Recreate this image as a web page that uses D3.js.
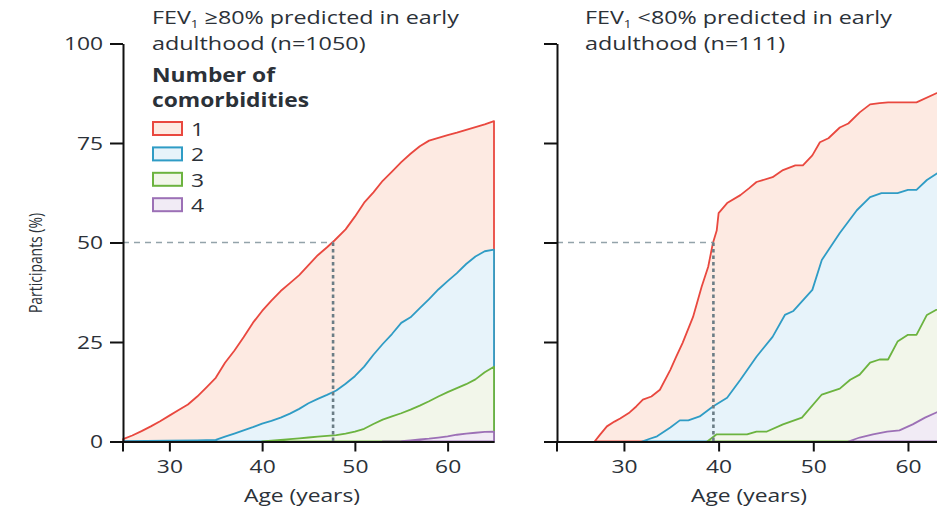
<!DOCTYPE html>
<html>
<head>
<meta charset="utf-8">
<script src="https://cdn.jsdelivr.net/npm/d3@7"></script>
<style>
  html, body { margin: 0; padding: 0; background: #fff; }
  svg text { font-family: "Open Sans", "Noto Sans", sans-serif; fill: #2b3138; font-weight: 500; }
</style>
</head>
<body>
<svg id="chart" width="937" height="510"></svg>
<script>
// Cumulative share of participants (%) with at least N comorbidities, by age
// Panel A: FEV1 >=80% predicted in early adulthood
const leftAges1 = [25, 26, 27, 28, 29, 30, 31, 32, 33, 34, 35, 36, 37, 38, 39, 40, 41, 42, 43, 44, 45, 46, 47, 47.8, 49, 50, 51, 52, 53, 54, 55, 56, 57, 58, 59, 60, 61, 62, 63, 64, 65];
const leftOne   = [0.6, 1.5, 2.6, 3.8, 5.1, 6.5, 7.9, 9.3, 11.3, 13.6, 16.0, 19.8, 22.8, 26.2, 29.8, 32.8, 35.4, 37.8, 39.8, 41.8, 44.3, 46.8, 48.8, 50.5, 53.3, 56.5, 60.0, 62.6, 65.5, 67.8, 70.2, 72.3, 74.2, 75.6, 76.3, 77.0, 77.6, 78.3, 79.0, 79.7, 80.5];
const leftAges2 = [25, 30, 33, 35, 36, 37, 38, 39, 40, 41, 42, 43, 44, 45, 46, 47, 48, 49, 50, 51, 52, 53, 54, 55, 56, 57, 58, 59, 60, 61, 62, 63, 64, 65];
const leftTwo   = [0.1, 0.2, 0.3, 0.4, 1.2, 2.0, 2.8, 3.6, 4.5, 5.2, 6.0, 7.0, 8.2, 9.6, 10.7, 11.7, 12.8, 14.5, 16.4, 18.8, 21.8, 24.5, 27.0, 29.8, 31.2, 33.5, 35.8, 38.2, 40.3, 42.3, 44.6, 46.5, 47.8, 48.2];
const leftAges3 = [40, 41, 42, 43, 44, 45, 46, 47, 48, 49, 50, 51, 52, 53, 54, 55, 56, 57, 58, 59, 60, 61, 62, 63, 64, 65];
const leftThree = [0, 0.2, 0.4, 0.6, 0.8, 1.0, 1.2, 1.4, 1.6, 2.0, 2.5, 3.2, 4.4, 5.5, 6.3, 7.1, 8.0, 9.0, 10.1, 11.3, 12.4, 13.4, 14.4, 15.6, 17.4, 18.8];
const leftAges4 = [53, 55, 56, 57, 58, 59, 60, 61, 62, 63, 64, 65];
const leftFour  = [0, 0.1, 0.3, 0.5, 0.7, 1.0, 1.3, 1.7, 2.0, 2.2, 2.4, 2.5];

// Panel B: FEV1 <80% predicted in early adulthood
const rightAges1 = [26.9, 27.5, 28.2, 29, 29.6, 30.6, 31.3, 32, 32.9, 33.8, 34.9, 35.5, 36.2, 37.3, 38.2, 38.9, 39.4, 39.8, 40.0, 40.9, 42.3, 43.2, 44, 45.7, 46.8, 48.1, 48.9, 49.9, 50.7, 51.6, 52.8, 53.7, 54.9, 56, 57, 57.9, 60.9, 63, 65];
const rightOne   = [0, 1.8, 3.8, 5.0, 5.8, 7.3, 8.8, 10.5, 11.3, 13.0, 18.0, 21.2, 24.8, 31.3, 38.8, 43.9, 49.9, 53.0, 57.4, 59.9, 61.9, 63.6, 65.2, 66.4, 68.2, 69.4, 69.4, 71.9, 75.2, 76.2, 78.9, 79.9, 82.7, 84.7, 85.0, 85.2, 85.2, 87.5, 89.0];
const rightAges2 = [31.9, 32.5, 33.5, 34.9, 35.9, 36.8, 38, 39.4, 40.9, 42.3, 44, 45.7, 47, 47.9, 49.9, 50.9, 52.8, 54.6, 56, 57.2, 58.9, 60, 60.9, 62, 63.1, 65];
const rightTwo   = [0, 0.5, 1.3, 3.5, 5.3, 5.3, 6.3, 8.8, 11.0, 15.5, 21.3, 26.3, 31.8, 32.8, 38.1, 45.6, 52.4, 58.1, 61.4, 62.4, 62.4, 63.2, 63.2, 65.7, 67.4, 69.0];
const rightAges3 = [38.8, 39.8, 43, 44, 45.1, 46.8, 48.8, 50.9, 52.8, 53.9, 54.9, 56, 57, 57.9, 58.9, 60, 60.9, 62, 63, 65];
const rightThree = [0, 1.8, 1.8, 2.5, 2.5, 4.3, 6.0, 11.8, 13.3, 15.5, 16.8, 19.8, 20.6, 20.6, 25.1, 26.8, 26.8, 31.8, 33.1, 34.0];
const rightAges4 = [53.7, 54.9, 56.3, 57.8, 59.1, 60.5, 61.8, 63, 65];
const rightFour  = [0, 1.0, 1.8, 2.5, 2.8, 4.3, 6.0, 7.3, 8.5];

// Age at which half the participants have at least one comorbidity
const leftMedianAge = 47.65;
const rightMedianAge = 39.45;

const yTicks = [0, 25, 50, 75, 100];
const xTicks = [30, 40, 50, 60];
const legendLabels = ["1", "2", "3", "4"];
const strokeColors = ["#e9483f", "#2f9cc5", "#6cb33f", "#9c70b6"];
const fillColors   = ["#fdeae2", "#e7f3fa", "#f2f6ea", "#f1ebf5"];

// the typeface runs wide; stretch set text horizontally
const WIDEN = 1.2;
function widen(sel, factor = WIDEN) {
  sel.each(function () {
    const len = this.getComputedTextLength();
    if (len > 0) {
      d3.select(this)
        .attr("textLength", len * factor)
        .attr("lengthAdjust", "spacingAndGlyphs");
    }
  });
  return sel;
}

const zip = (ages, vals) => ages.map((a, i) => [a, vals[i]]);

const svg = d3.select("#chart");

const panels = [
  {
    title: ["FEV", "1", " \u226580% predicted in early", "adulthood (n=1050)"],
    titleX: 152,
    x: d3.scaleLinear().domain([25, 65]).range([123, 494]),
    series: [zip(leftAges1, leftOne), zip(leftAges2, leftTwo), zip(leftAges3, leftThree), zip(leftAges4, leftFour)],
    median: leftMedianAge,
    labels: true,
    xTitle: 302
  },
  {
    title: ["FEV", "1", " <80% predicted in early", "adulthood (n=111)"],
    titleX: 585,
    x: d3.scaleLinear().domain([22.93, 65]).range([557, 955.3]),
    series: [zip(rightAges1, rightOne), zip(rightAges2, rightTwo), zip(rightAges3, rightThree), zip(rightAges4, rightFour)],
    median: rightMedianAge,
    labels: false,
    xTitle: 749
  }
];

const y = d3.scaleLinear().domain([0, 100]).range([441.5, 43.5]);
const FS = "19px";

panels.forEach(p => {
  const g = svg.append("g");
  const x = p.x;
  const x0 = x.range()[0];

  // each count drawn as an area from 0 up to its curve, higher counts on top
  const area = d3.area()
    .x(d => x(d[0]))
    .y0(y(0))
    .y1(d => y(d[1]));

  p.series.forEach((s, i) => {
    g.append("path")
      .datum(s)
      .attr("d", area)
      .attr("fill", fillColors[i])
      .attr("stroke", strokeColors[i])
      .attr("stroke-width", 1.8)
      .attr("stroke-linejoin", "round");
  });

  // reference lines at 50%
  g.append("line")
    .attr("x1", x0).attr("x2", x(p.median))
    .attr("y1", y(50)).attr("y2", y(50))
    .attr("stroke", "#93a3aa").attr("stroke-width", 1.6)
    .attr("stroke-dasharray", "6,5");
  g.append("line")
    .attr("x1", x(p.median)).attr("x2", x(p.median))
    .attr("y1", y(50)).attr("y2", y(0))
    .attr("stroke", "#6b7d85").attr("stroke-width", 2.6)
    .attr("stroke-dasharray", "3.5,3");

  // y axis
  const yAxis = g.append("g")
    .attr("transform", `translate(${x0},0)`)
    .call(d3.axisLeft(y).tickValues(yTicks).tickSize(13).tickSizeOuter(0).tickPadding(7));
  yAxis.selectAll("path, line").attr("stroke", "#111").attr("stroke-width", 2);
  yAxis.selectAll("text")
    .style("font-size", FS)
    .attr("fill", "#2b3138")
    .text(d => p.labels ? d : "");
  if (p.labels) widen(yAxis.selectAll("text"));
  // axis line carried on below the origin
  g.append("line")
    .attr("x1", x0).attr("x2", x0)
    .attr("y1", y(0)).attr("y2", y(0) + 10)
    .attr("stroke", "#111").attr("stroke-width", 2);

  // x axis
  const xAxis = g.append("g")
    .attr("transform", `translate(0,${y(0)})`)
    .call(d3.axisBottom(x).tickValues(xTicks).tickSize(10).tickSizeOuter(0).tickPadding(8));
  xAxis.selectAll("path, line").attr("stroke", "#111").attr("stroke-width", 2);
  xAxis.selectAll("text").style("font-size", FS).attr("fill", "#2b3138");
  widen(xAxis.selectAll("text"));

  widen(g.append("text")
    .attr("x", p.xTitle)
    .attr("y", 502)
    .attr("text-anchor", "middle")
    .style("font-size", FS)
    .text("Age (years)"));

  // panel title with subscript
  const t = g.append("text")
    .attr("x", p.titleX).attr("y", 24)
    .style("font-size", FS);
  t.append("tspan").text(p.title[0]);
  t.append("tspan").attr("dy", 4).style("font-size", "11px").text(p.title[1]);
  t.append("tspan").attr("dy", -4).text(p.title[2]);
  widen(t, 1.225);
  widen(g.append("text")
    .attr("x", p.titleX).attr("y", 50)
    .style("font-size", FS)
    .text(p.title[3]), 1.23);
});

// y axis title
svg.append("text")
  .attr("transform", "translate(42,263) rotate(-90)")
  .attr("text-anchor", "middle")
  .style("font-size", "19px")
  .attr("textLength", 100)
  .attr("lengthAdjust", "spacingAndGlyphs")
  .text("Participants (%)");

// legend
const legend = svg.append("g");
widen(legend.append("text").attr("x", 152).attr("y", 82)
  .style("font-size", FS).style("font-weight", "700").text("Number of"));
widen(legend.append("text").attr("x", 152).attr("y", 107)
  .style("font-size", FS).style("font-weight", "700").text("comorbidities"));

legendLabels.forEach((lab, i) => {
  const ly = 122 + i * 25.4;
  legend.append("rect")
    .attr("x", 153).attr("y", ly)
    .attr("width", 29).attr("height", 13)
    .attr("fill", fillColors[i])
    .attr("stroke", strokeColors[i])
    .attr("stroke-width", 2);
  widen(legend.append("text")
    .attr("x", 191).attr("y", ly + 14)
    .style("font-size", FS)
    .text(lab));
});
</script>
</body>
</html>
